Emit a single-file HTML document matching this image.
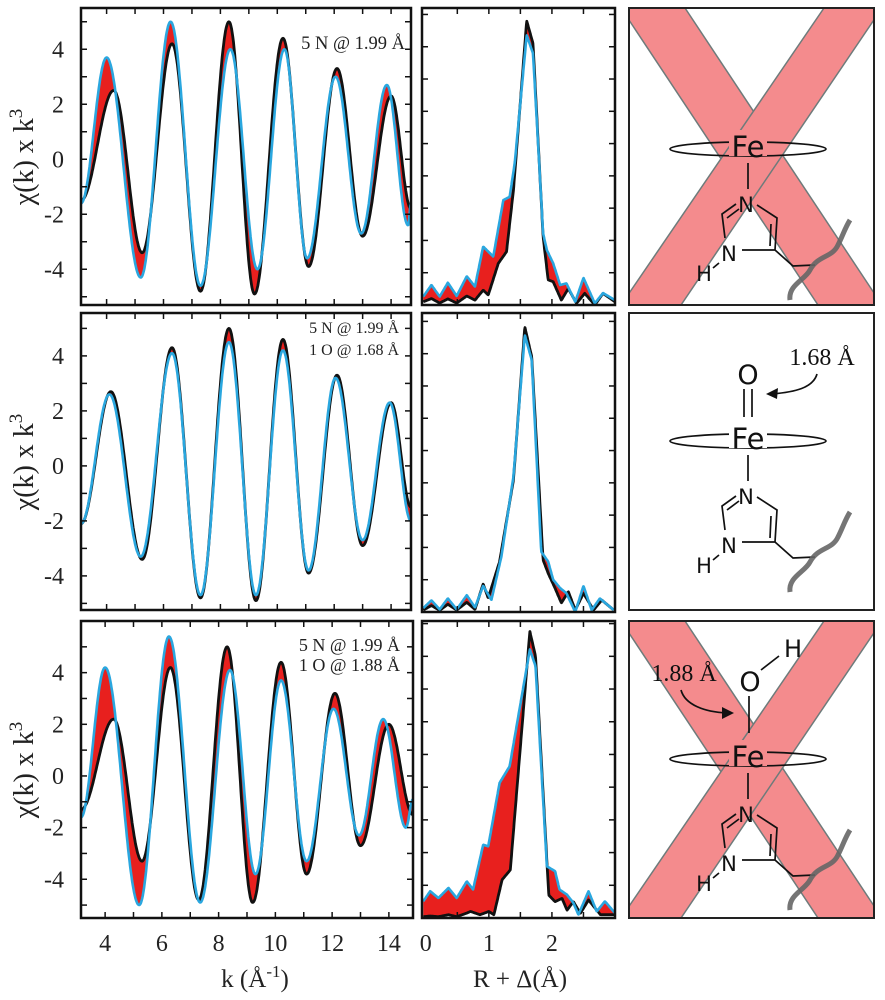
<!DOCTYPE html>
<html><head><meta charset="utf-8"><style>
html,body{margin:0;padding:0;background:#fff;}
svg{display:block;font-family:"Liberation Serif",serif;}
.mol{font-family:"DejaVu Sans","Liberation Sans",sans-serif;}
</style></head><body>
<svg id="fig" width="885" height="1000" viewBox="0 0 885 1000"></svg>
<script>
// ---- k-space data (extrema points: k, chi*k^3) ----
const kData1 = [3.1,4.25,5.25,6.3,7.3,8.3,9.2,10.2,11.1,12.1,13.0,14.0,14.7];
const chiData1 = [-1.5,2.5,-3.4,4.2,-4.8,5.0,-4.9,4.4,-3.9,3.3,-2.8,2.3,-1.8];
const kFit1 = [3.1,4.0,5.2,6.25,7.3,8.35,9.3,10.25,11.05,12.05,12.95,13.85,14.6,14.7];
const chiFit1 = [-1.6,3.7,-4.3,5.0,-4.6,4.0,-4.0,4.0,-3.6,3.0,-2.7,2.7,-2.4,-1.6];
const kData2 = [3.1,4.15,5.25,6.3,7.3,8.3,9.25,10.2,11.1,12.1,13.0,14.0,14.7];
const chiData2 = [-2.1,2.7,-3.4,4.3,-4.8,5.0,-4.9,4.6,-3.9,3.3,-2.9,2.3,-1.5];
const kFit2 = [3.1,4.1,5.2,6.3,7.3,8.3,9.25,10.2,11.1,12.05,13.0,13.95,14.7];
const chiFit2 = [-2.1,2.6,-3.3,4.1,-4.7,4.5,-4.7,4.2,-3.8,3.2,-2.7,2.3,-2.0];
const kData3 = [3.15,4.3,5.3,6.3,7.3,8.3,9.2,10.2,11.1,12.1,13.0,14.0,14.85];
const chiData3 = [-1.3,2.2,-3.3,4.2,-4.8,5.0,-4.9,4.4,-3.8,3.2,-2.7,2.0,-1.5];
const kFit3 = [3.15,4.0,5.2,6.25,7.35,8.4,9.3,10.2,11.1,12.05,12.95,13.8,14.6,14.85];
const chiFit3 = [-1.6,4.2,-5.0,5.4,-4.9,4.1,-3.8,3.7,-3.3,2.6,-2.3,2.2,-2.0,-0.9];
// ---- R-space data (R, |FT|) ----
const rData1 = [-0.04,0.09,0.22,0.35,0.49,0.65,0.78,0.91,0.99,1.15,1.28,1.39,1.60,1.70,1.86,1.94,2.02,2.15,2.26,2.39,2.52,2.68,2.81,3.0];
const ftData1 = [0.10,0.20,0.06,0.19,0.06,0.28,0.15,0.46,0.31,1.29,1.65,3.56,8.80,8.10,2.12,0.78,0.72,0.15,0.51,0.05,0.36,0.0,0.36,0.10];
const rFit1 = [-0.04,0.09,0.22,0.35,0.49,0.65,0.78,0.91,1.07,1.23,1.33,1.41,1.60,1.70,1.86,1.92,2.02,2.13,2.23,2.37,2.50,2.68,2.81,3.0];
const ftFit1 = [0.26,0.62,0.26,0.69,0.28,0.89,0.57,1.81,1.50,3.25,3.35,4.39,8.36,7.79,2.22,1.70,1.29,0.62,0.67,0.10,0.84,0.05,0.37,0.15];
const rData2 = [-0.04,0.09,0.22,0.35,0.49,0.65,0.78,0.91,0.99,1.17,1.39,1.57,1.68,1.86,1.94,2.04,2.15,2.26,2.37,2.50,2.66,2.79,2.98];
const ftData2 = [0.06,0.20,0.05,0.24,0.06,0.30,0.08,0.87,0.43,1.56,4.09,8.83,7.90,1.61,1.20,0.78,0.28,0.63,0.06,0.58,0.06,0.37,0.06];
const rFit2 = [-0.04,0.09,0.22,0.35,0.49,0.65,0.78,0.91,1.04,1.20,1.39,1.57,1.68,1.83,1.94,2.02,2.13,2.23,2.37,2.50,2.63,2.76,2.98];
const ftFit2 = [0.12,0.36,0.08,0.42,0.08,0.52,0.14,0.81,0.37,1.73,4.20,8.58,7.80,1.87,1.56,1.00,0.74,0.58,0.0,0.81,0.06,0.42,0.06];
const rData3 = [-0.04,0.07,0.20,0.36,0.49,0.65,0.71,0.86,1.00,1.08,1.21,1.34,1.47,1.65,1.74,1.95,2.05,2.16,2.24,2.34,2.45,2.58,2.77,3.0];
const ftData3 = [0.04,0.06,0.04,0.10,0.04,0.15,0.20,0.10,0.20,0.10,1.17,1.47,4.53,8.76,8.00,0.70,0.50,0.60,0.24,0.50,0.14,0.55,0.10,0.10];
const rFit3 = [-0.04,0.07,0.20,0.36,0.49,0.65,0.75,0.91,0.99,1.17,1.33,1.65,1.74,1.92,2.05,2.12,2.24,2.34,2.42,2.58,2.71,2.84,3.0];
const ftFit3 = [0.51,0.82,0.61,0.92,0.61,1.12,0.87,2.24,2.19,4.13,4.64,8.21,7.70,1.58,1.43,0.87,0.71,0.46,0.10,0.82,0.20,0.51,0.15];
const yTickLabels = ["4","2","0","-2","-4"];
const kTickLabels = ["4","6","8","10","12","14"];
const rTickLabels = ["0","1","2"];

const NS="http://www.w3.org/2000/svg";
const svg=document.getElementById('fig');
function el(tag,attrs,parent){const e=document.createElementNS(NS,tag);for(const k in attrs)e.setAttribute(k,attrs[k]);(parent||svg).appendChild(e);return e;}
function cosInterp(xs,ys,x){
  if(x<=xs[0])return ys[0];
  for(let i=0;i<xs.length-1;i++){if(x<=xs[i+1]){const t=(x-xs[i])/(xs[i+1]-xs[i]);return ys[i]+(ys[i+1]-ys[i])*(1-Math.cos(Math.PI*t))/2;}}
  return ys[ys.length-1];
}
function linInterp(xs,ys,x){
  if(x<=xs[0])return ys[0];
  for(let i=0;i<xs.length-1;i++){if(x<=xs[i+1]){const t=(x-xs[i])/(xs[i+1]-xs[i]);return ys[i]+(ys[i+1]-ys[i])*t;}}
  return ys[ys.length-1];
}
let clipId=0;
function panel(box,xd,yd,dataX,dataY,fitX,fitY,interp,opt,name){
  const sx=v=>box.x0+(v-xd[0])/(xd[1]-xd[0])*(box.x1-box.x0);
  const sy=v=>box.y1-(v-yd[0])/(yd[1]-yd[0])*(box.y1-box.y0);
  const g=el('g',{});
  
  
  const cid='c'+(clipId++);
  const cp=el('clipPath',{id:cid},g);el('rect',{x:box.x0,y:box.y0,width:box.x1-box.x0,height:box.y1-box.y0},cp);
  const pg=el('g',{'clip-path':`url(#${cid})`},g);
  const N=500,xa=Math.max(dataX[0],fitX[0]),xb=Math.min(dataX[dataX.length-1],fitX[fitX.length-1]);
  const xsA=[];for(let i=0;i<=N;i++)xsA.push(xa+(xb-xa)*i/N);
  const dPts=xsA.map(x=>[sx(x),sy(interp(dataX,dataY,x))]);
  const fPts=xsA.map(x=>[sx(x),sy(interp(fitX,fitY,x))]);
  const poly=dPts.concat(fPts.slice().reverse()).map(p=>p[0].toFixed(1)+','+p[1].toFixed(1)).join(' ');
  const fill=el('polygon',{points:poly,fill:'#e8201e',stroke:'none'},pg);
  
  
  const dl=el('polyline',{points:dPts.map(p=>p[0].toFixed(1)+','+p[1].toFixed(1)).join(' '),fill:'none',stroke:'#111',"stroke-width":2.8,"stroke-linejoin":"round"},pg);
  
  
  const fl=el('polyline',{points:fPts.map(p=>p[0].toFixed(1)+','+p[1].toFixed(1)).join(' '),fill:'none',stroke:'#2aa7df',"stroke-width":2.6,"stroke-linejoin":"round"},pg);
  
  
  const tl=6;
  for(const v of opt.xticks){const x=sx(v);el('line',{x1:x,y1:box.y1,x2:x,y2:box.y1-tl,stroke:'#111','stroke-width':1.5},g);el('line',{x1:x,y1:box.y0,x2:x,y2:box.y0+tl,stroke:'#111','stroke-width':1.5},g);}
  for(const v of opt.yticks){const y=sy(v);el('line',{x1:box.x0,y1:y,x2:box.x0+tl,y2:y,stroke:'#111','stroke-width':1.5},g);el('line',{x1:box.x1,y1:y,x2:box.x1-tl,y2:y,stroke:'#111','stroke-width':1.5},g);}
  const fr=el('rect',{x:box.x0,y:box.y0,width:box.x1-box.x0,height:box.y1-box.y0,fill:'none',stroke:'#111','stroke-width':2.5},g);
  
  
  if(opt.ylabels){opt.ylabels.forEach(s=>{const t=el('text',{x:box.x0-17,y:sy(+s)+8,'text-anchor':'end','font-size':24,fill:'#222'},g);t.textContent=s;});}
  if(opt.xlabels){opt.xlabels.forEach(s=>{const t=el('text',{x:sx(+s),y:box.y1+33,'text-anchor':'middle','font-size':24,fill:'#222'},g);t.textContent=s;});}
  return {sx,sy};
}
const kt=[4,5,6,7,8,9,10,11,12,13,14];
const yt=[-5,-4,-3,-2,-1,0,1,2,3,4,5];
const rt=[0.5,1,1.5,2,2.5];
const ftT=[1,2,3,4,5,6,7,8,9];
panel({x0:81,x1:411,y0:8,y1:305},[3.1,14.7],[-5.3,5.5],kData1,chiData1,kFit1,chiFit1,cosInterp,{xticks:kt,yticks:yt,ylabels:yTickLabels},'chi-panel-1');
panel({x0:81,x1:411,y0:313,y1:610},[3.1,14.7],[-5.24,5.56],kData2,chiData2,kFit2,chiFit2,cosInterp,{xticks:kt,yticks:yt,ylabels:yTickLabels},'chi-panel-2');
panel({x0:81,x1:413,y0:621,y1:918},[3.15,14.85],[-5.5,6.0],kData3,chiData3,kFit3,chiFit3,cosInterp,{xticks:kt,yticks:yt,ylabels:yTickLabels,xlabels:kTickLabels},'chi-panel-3');
panel({x0:422,x1:615,y0:8,y1:305},[-0.06,3.0],[0,9.2],rData1,ftData1,rFit1,ftFit1,linInterp,{xticks:rt,yticks:ftT},'ft-panel-1');
panel({x0:422,x1:615,y0:313,y1:612},[-0.06,3.0],[0,9.26],rData2,ftData2,rFit2,ftFit2,linInterp,{xticks:rt,yticks:ftT},'ft-panel-2');
panel({x0:422,x1:615,y0:621,y1:918},[-0.06,3.0],[0,9.08],rData3,ftData3,rFit3,ftFit3,linInterp,{xticks:rt,yticks:ftT,xlabels:rTickLabels},'ft-panel-3');
</script>
<script>
(function(){
const NS="http://www.w3.org/2000/svg",svg=document.getElementById('fig');
function el(tag,attrs,parent){const e=document.createElementNS(NS,tag);for(const k in attrs)e.setAttribute(k,attrs[k]);(parent||svg).appendChild(e);return e;}
function txt(s,x,y,attrs,name){const t=el('text',Object.assign({x,y},attrs));t.textContent=s;return t;}
[157,462,770].forEach(cy=>{const t=txt('',0,0,{transform:`translate(33,${cy}) rotate(-90)`,'text-anchor':'middle','font-size':28,fill:'#222'},'y-axis-title');
 t.innerHTML='χ(k) x k<tspan dy="-11" font-size="19">3</tspan>';});
txt('',255,987,{'text-anchor':'middle','font-size':25,fill:'#222'},'x-axis-title-k').innerHTML='k (Å<tspan dy="-10" font-size="17">-1</tspan><tspan dy="10">)</tspan>';
txt('R + Δ(Å)',520,987,{'text-anchor':'middle','font-size':25,fill:'#222'},'x-axis-title-r');
txt('5 N @ 1.99 Å',405,49,{'text-anchor':'end','font-size':18.5,fill:'#222'},'shell-label');
txt('5 N @ 1.99 Å',399,333,{'text-anchor':'end','font-size':16,fill:'#222'},'shell-label');
txt('1 O @ 1.68 Å',399,355,{'text-anchor':'end','font-size':16,fill:'#222'},'shell-label');
txt('5 N @ 1.99 Å',400,651,{'text-anchor':'end','font-size':18,fill:'#222'},'shell-label');
txt('1 O @ 1.88 Å',400,671,{'text-anchor':'end','font-size':18,fill:'#222'},'shell-label');
function molecule(y0,dy,cross,name){
  const g=el('g',{});
  const bx=629,bw=245,by=y0,bh=297;
  const cid='m'+y0;const cp=el('clipPath',{id:cid},g);el('rect',{x:bx,y:by,width:bw,height:bh},cp);
  if(cross){const cg=el('g',{'clip-path':`url(#${cid})`},g);
    el('polygon',{points:`${bx-8},${by} ${bx+56},${by} ${bx+bw+8},${by+bh} ${bx+bw-56},${by+bh}`,fill:'#f48b8d',stroke:'#6e7b7b','stroke-width':1.5},cg);
    el('polygon',{points:`${bx+bw-50},${by} ${bx+bw+8},${by} ${bx+52},${by+bh} ${bx-8},${by+bh}`,fill:'#f48b8d',stroke:'#6e7b7b','stroke-width':1.5},cg);}
  el('rect',{x:bx,y:by,width:bw,height:bh,fill:'none',stroke:'#222','stroke-width':2},g);
  const o=dy;
  const s={stroke:'#111','stroke-width':1.7,fill:'none'};
  el('ellipse',Object.assign({cx:748,cy:149+o,rx:78,ry:7},s),g);
  el('rect',{x:729,y:130+o,width:38,height:26,fill:cross?'#f48b8d':'#fff'},g);
  txt('Fe',748,157+o,{'text-anchor':'middle','font-size':29,fill:'#111',class:'mol'},'fe-atom');
  el('line',Object.assign({x1:748,y1:163+o,x2:748,y2:189+o},s),g);
  txt('N',746,212+o,{'text-anchor':'middle','font-size':21,fill:'#111',class:'mol'},'n-atom');
  txt('N',729,261+o,{'text-anchor':'middle','font-size':21,fill:'#111',class:'mol'},'nh-atom');
  txt('H',704,281+o,{'text-anchor':'middle','font-size':21,fill:'#111',class:'mol'},'h-atom');
  el('path',Object.assign({d:`M757,${205+o} L777,${218+o} L775,${250+o} L742,${250+o} M736,${204+o} L722,${214+o} L725,${238+o} M739,${209+o} L727,${218+o} M771,${224+o} L770,${246+o} M713,${268+o} L719,${263+o} M775,${250+o} L793,${266+o} L815,${265+o}`},s),g);
  el('path',{d:`M790,${300+o} C788,${285+o} 805,${280+o} 810,${270+o} C818,${255+o} 832,${258+o} 838,${245+o} C843,${235+o} 845,${228+o} 850,${220+o}`,stroke:'#666','stroke-width':5,fill:'none','stroke-opacity':0.9},g);
  return g;
}
molecule(8,0,true,'heme-fe-iii-crossed');
molecule(313,292,false,'heme-fe-iv-oxo');
molecule(621,610,true,'heme-fe-iv-oh-crossed');
const s={stroke:'#111','stroke-width':1.7,fill:'none'};
txt('O',748,384,{'text-anchor':'middle','font-size':27,fill:'#111',class:'mol'},'o-atom');
el('line',Object.assign({x1:744,y1:389,x2:744,y2:417},s));el('line',Object.assign({x1:752,y1:389,x2:752,y2:417},s));
txt('1.68 Å',822,365,{'text-anchor':'middle','font-size':24,fill:'#111'},'bond-length-label');
el('path',Object.assign({d:'M817,374 C813,388 795,392 772,394'},s));
el('polygon',{points:'766,394 778,388 777,399',fill:'#111'});
txt('O',750,691,{'text-anchor':'middle','font-size':27,fill:'#111',class:'mol'},'o-atom');
txt('H',793,657,{'text-anchor':'middle','font-size':24,fill:'#111',class:'mol'},'h-atom');
el('line',Object.assign({x1:761,y1:670,x2:779,y2:656},s));
el('line',Object.assign({x1:749,y1:696,x2:749,y2:733},s));
txt('1.88 Å',684,681,{'text-anchor':'middle','font-size':24,fill:'#111'},'bond-length-label');
el('path',Object.assign({d:'M681,690 C685,705 705,712 727,713'},s));
el('polygon',{points:'734,713 722,707 722,719',fill:'#111'});
})();
</script>
</body></html>
